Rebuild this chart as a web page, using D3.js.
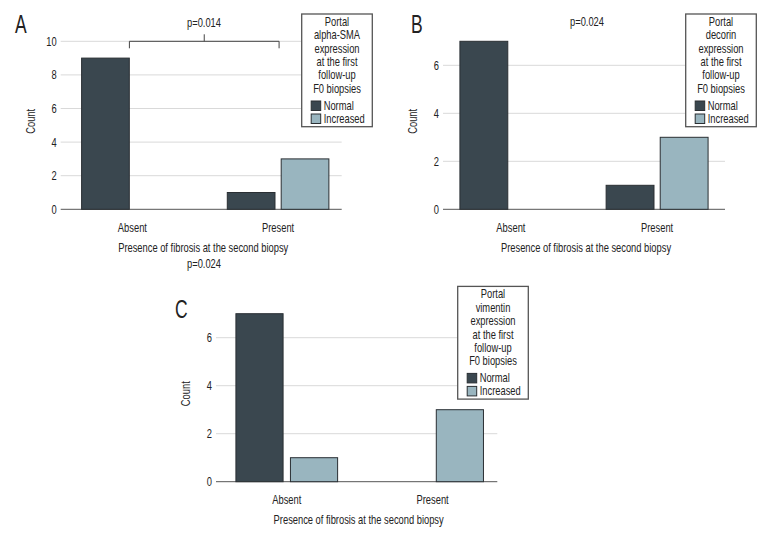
<!DOCTYPE html>
<html><head><meta charset="utf-8">
<script src="https://cdn.jsdelivr.net/npm/d3@7"></script>
<style>
body{margin:0;background:#fff;}
text{font-family:"Liberation Sans",Arial,sans-serif;fill:#222;}
</style></head>
<body><svg id="chart" width="780" height="540"></svg>
<script>
// ---- data ----
const categories = ["Absent", "Present"];
const seriesNames = ["Normal", "Increased"];
const smaNormal = [9, 1];
const smaIncreased = [0, 3];
const decorinNormal = [7, 1];
const decorinIncreased = [0, 3];
const vimentinNormal = [7, 0];
const vimentinIncreased = [1, 3];
const ticksA = [0, 2, 4, 6, 8, 10];
const ticksBC = [0, 2, 4, 6];
const legendTitleA = ["Portal", "alpha-SMA", "expression", "at the first", "follow-up", "F0 biopsies"];
const legendTitleB = ["Portal", "decorin", "expression", "at the first", "follow-up", "F0 biopsies"];
const legendTitleC = ["Portal", "vimentin", "expression", "at the first", "follow-up", "F0 biopsies"];
const panelLetters = ["A", "B", "C"];
const pValues = ["p=0.014", "p=0.024", "p=0.024"];
const xTitle = "Presence of fibrosis at the second biopsy";
const yTitle = "Count";

const colors = {Normal: "#3a474f", Increased: "#99b5bf"};
const svg = d3.select("#chart");
const SX = 0.73, FS = 12.8;

// narrow text helper: horizontally condensed text
function addText(parent, x, y, str, o = {}) {
  const rot = o.rotate ? ` rotate(${o.rotate})` : "";
  const sx = o.sx || SX;
  return parent.append("text")
    .attr("transform", `translate(${x},${y})${rot} scale(${sx},1)`)
    .attr("dy", o.dy === undefined ? "0.35em" : o.dy)
    .attr("text-anchor", o.anchor || "middle")
    .attr("font-size", o.size || FS)
    .attr("fill", o.fill || "#222")
    .text(str);
}

function drawPanel(cfg) {
  const g = svg.append("g");
  const x0 = d3.scaleBand().domain(categories).range([cfg.left, cfg.right])
    .paddingInner(0.3027).paddingOuter(0.1157).align(cfg.align);
  const x1 = d3.scaleBand().domain(seriesNames).range([0, x0.bandwidth()]).paddingInner(cfg.subPad);
  const y = d3.scaleLinear().domain([0, cfg.max]).range([cfg.y0, cfg.y0 - 168]);

  // gridlines
  g.selectAll(".grid").data(cfg.ticks.filter(t => t > 0)).join("line")
    .attr("x1", cfg.left).attr("x2", cfg.right)
    .attr("y1", d => y(d)).attr("y2", d => y(d))
    .attr("stroke", "#d9d9d9").attr("stroke-width", 1);
  // baseline
  g.append("line").attr("x1", cfg.left).attr("x2", cfg.right)
    .attr("y1", y(0)).attr("y2", y(0)).attr("stroke", "#555").attr("stroke-width", 1);
  // tick labels
  cfg.ticks.forEach(t => addText(g, cfg.left - 4, y(t), t, {anchor: "end"}));

  // bars
  const rows = [];
  categories.forEach((c, i) => {
    seriesNames.forEach((s, j) => {
      const v = (j === 0 ? cfg.normal : cfg.increased)[i];
      rows.push({c, s, v});
    });
  });
  g.selectAll(".bar").data(rows.filter(d => d.v > 0)).join("rect")
    .attr("x", d => x0(d.c) + x1(d.s)).attr("width", x1.bandwidth())
    .attr("y", d => y(d.v)).attr("height", d => y(0) - y(d.v))
    .attr("fill", d => colors[d.s]).attr("stroke", "#2a2f33").attr("stroke-width", 1);

  // category labels
  categories.forEach(c => addText(g, x0(c) + x0.bandwidth() / 2, cfg.y0 + 18, c));
  // x title
  addText(g, (cfg.left + cfg.right) / 2 + 2, cfg.y0 + 38, xTitle);
  // y title
  addText(g, cfg.left - 30, cfg.y0 - 88, yTitle, {rotate: -90});

  // panel letter
  addText(g, cfg.letterX, cfg.letterY, cfg.letter, {anchor: "start", dy: 0, size: 25, sx: 0.7, fill: "#111"});
  // p value
  addText(g, cfg.pX, cfg.pY, cfg.p);

  // bracket
  if (cfg.bracket) {
    const bx1 = x0(categories[0]) + x0.bandwidth() / 2 - 3;
    const bx2 = x0(categories[1]) + x0.bandwidth() / 2 + 1;
    const by = y(cfg.max);
    const path = d3.path();
    path.moveTo(bx1, by + 7); path.lineTo(bx1, by); path.lineTo(bx2, by); path.lineTo(bx2, by + 7);
    path.moveTo((bx1 + bx2) / 2, by); path.lineTo((bx1 + bx2) / 2, by - 7);
    g.append("path").attr("d", path.toString()).attr("fill", "none")
      .attr("stroke", "#444").attr("stroke-width", 1);
  }

  // legend
  const lx = cfg.legX, ly = cfg.y0 - 195.3, lw = 70.6, lh = 112.7;
  const lg = g.append("g");
  lg.append("rect").attr("x", lx).attr("y", ly).attr("width", lw).attr("height", lh)
    .attr("fill", "#fff").attr("stroke", "#555").attr("stroke-width", 1.3);
  cfg.legendTitle.forEach((t, i) => addText(lg, lx + lw / 2, ly + 7.6 + i * 13.35, t));
  seriesNames.forEach((s, i) => {
    const cy = ly + 91.5 + i * 13;
    lg.append("rect").attr("x", lx + 9.5).attr("y", cy - 4.5).attr("width", 9.5).attr("height", 9.5)
      .attr("fill", colors[s]).attr("stroke", "#2a2f33").attr("stroke-width", 1);
    addText(lg, lx + 22, cy, s, {anchor: "start"});
  });
}

drawPanel({left: 60.7, right: 341.7, y0: 209.3, max: 10, ticks: ticksA, align: 0.62, subPad: 0.115,
  normal: smaNormal, increased: smaIncreased, legendTitle: legendTitleA, legX: 301.7,
  letter: panelLetters[0], letterX: 15, letterY: 33, p: pValues[0], pX: 204, pY: 23, bracket: true});
drawPanel({left: 443, right: 725, y0: 209.3, max: 7, ticks: ticksBC, align: 0.5, subPad: 0.115,
  normal: decorinNormal, increased: decorinIncreased, legendTitle: legendTitleB, legX: 685.7,
  letter: panelLetters[1], letterX: 411, letterY: 33, p: pValues[1], pX: 587, pY: 21.7, bracket: false});
drawPanel({left: 216, right: 497.3, y0: 481.7, max: 7, ticks: ticksBC, align: 0.59, subPad: 0.135,
  normal: vimentinNormal, increased: vimentinIncreased, legendTitle: legendTitleC, legX: 457.7,
  letter: panelLetters[2], letterX: 175, letterY: 318, p: pValues[2], pX: 204, pY: 264, bracket: false});
</script></body></html>
